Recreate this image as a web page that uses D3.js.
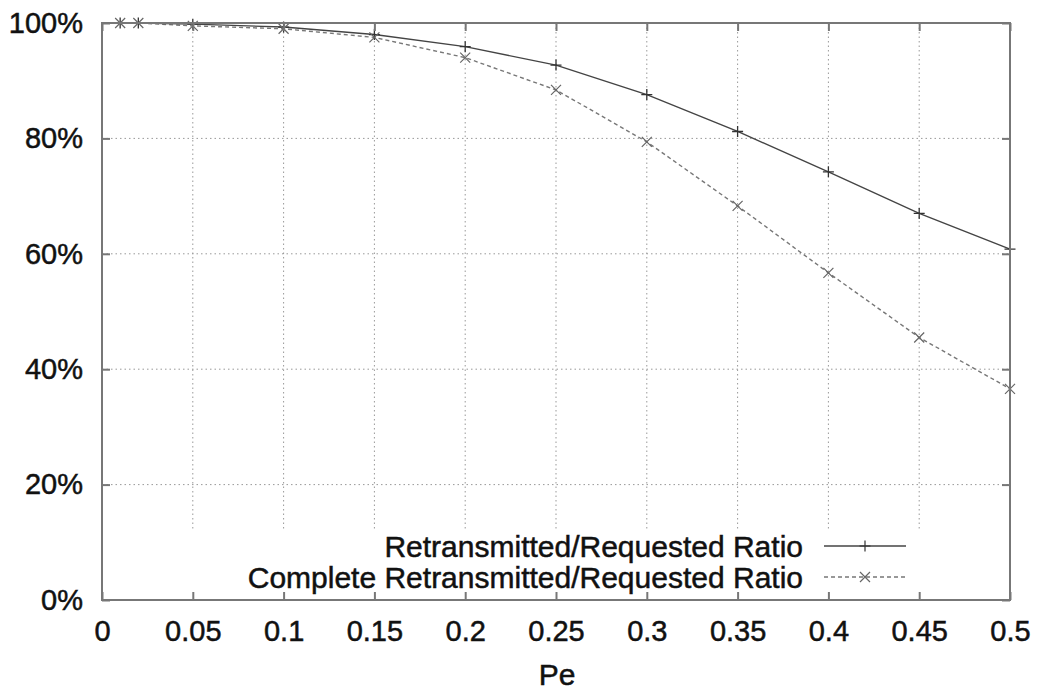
<!DOCTYPE html>
<html>
<head>
<meta charset="utf-8">
<script src="https://cdn.jsdelivr.net/npm/d3@7"></script>
<style>
  body { margin: 0; background: #fff; }
  text { font-family: "Liberation Sans", Arial, sans-serif; fill: #111; stroke: #111; stroke-width: 0.5px; }
</style>
</head>
<body>
<div id="chart"></div>
<script>
const pe = [0.01, 0.02, 0.05, 0.1, 0.15, 0.2, 0.25, 0.3, 0.35, 0.4, 0.45, 0.5];
const retransRatio = [100, 100, 99.8, 99.3, 98.0, 95.9, 92.7, 87.6, 81.2, 74.2, 67.0, 60.8];
const completeRatio = [100, 100, 99.5, 99.0, 97.5, 94.0, 88.4, 79.4, 68.3, 56.7, 45.5, 36.6];
const xTicks = [0, 0.05, 0.1, 0.15, 0.2, 0.25, 0.3, 0.35, 0.4, 0.45, 0.5];
const yTicks = [0, 20, 40, 60, 80, 100];
const seriesNames = ["Retransmitted/Requested Ratio", "Complete Retransmitted/Requested Ratio"];

const width = 1042, height = 691;
const margin = {top: 23, right: 32, bottom: 91, left: 102};
const w = width - margin.left - margin.right,
    h = height - margin.top - margin.bottom;

const svg = d3.select("#chart")
    .append("svg")
        .attr("width", width)
        .attr("height", height);

const g = svg.append("g")
    .attr("transform", "translate(" + margin.left + "," + margin.top + ")");

const x = d3.scaleLinear().domain([0, 0.5]).range([0, w]);
const y = d3.scaleLinear().domain([0, 100]).range([h, 0]);

// grid
g.append("g")
    .selectAll("line")
    .data(xTicks.slice(1, -1))
    .join("line")
        .attr("x1", d => x(d)).attr("x2", d => x(d))
        .attr("y1", 0).attr("y2", h)
        .attr("stroke", "#999")
        .attr("stroke-width", 1)
        .attr("stroke-dasharray", "1.5,3");

g.append("g")
    .selectAll("line")
    .data(yTicks.slice(1, -1))
    .join("line")
        .attr("y1", d => y(d)).attr("y2", d => y(d))
        .attr("x1", 0).attr("x2", w)
        .attr("stroke", "#999")
        .attr("stroke-width", 1)
        .attr("stroke-dasharray", "1.5,3");

// legend background hides the grid underneath
g.append("rect")
    .attr("x", 1).attr("y", h - 69)
    .attr("width", w - 2).attr("height", 68)
    .attr("fill", "#fff");

// series
const pts1 = pe.map((p, i) => [p, retransRatio[i]]);
const pts2 = pe.map((p, i) => [p, completeRatio[i]]);
const line = d3.line().x(d => x(d[0])).y(d => y(d[1]));

g.append("path")
    .datum(pts2)
    .attr("fill", "none")
    .attr("stroke", "#777")
    .attr("stroke-width", 1.4)
    .attr("stroke-dasharray", "4,3")
    .attr("d", line);

g.append("path")
    .datum(pts1)
    .attr("fill", "none")
    .attr("stroke", "#444")
    .attr("stroke-width", 1.4)
    .attr("d", line);

const plusPath = s => `M${-s},0H${s}M0,${-s}V${s}`;
const crossPath = s => `M${-s},${-s}L${s},${s}M${-s},${s}L${s},${-s}`;

g.append("g")
    .selectAll("path")
    .data(pts1)
    .join("path")
        .attr("transform", d => "translate(" + x(d[0]) + "," + y(d[1]) + ")")
        .attr("d", plusPath(5.5))
        .attr("stroke", "#333")
        .attr("stroke-width", 1.3);

g.append("g")
    .selectAll("path")
    .data(pts2)
    .join("path")
        .attr("transform", d => "translate(" + x(d[0]) + "," + y(d[1]) + ")")
        .attr("d", crossPath(5))
        .attr("stroke", "#666")
        .attr("stroke-width", 1.2);

// legend
const legend = g.append("g")
    .attr("transform", "translate(0," + (h - 54) + ")");

seriesNames.forEach((name, i) => {
    const ly = i * 31;
    legend.append("text")
        .attr("x", 701)
        .attr("y", ly)
        .attr("dy", "0.35em")
        .style("font-size", "30px")
        .style("text-anchor", "end")
        .text(name);
    legend.append("line")
        .attr("x1", 722).attr("x2", 804)
        .attr("y1", ly).attr("y2", ly)
        .attr("stroke", i === 0 ? "#444" : "#777")
        .attr("stroke-width", 1.4)
        .attr("stroke-dasharray", i === 0 ? null : "4,3");
    legend.append("path")
        .attr("transform", "translate(763," + ly + ")")
        .attr("d", i === 0 ? plusPath(5.5) : crossPath(5))
        .attr("stroke", i === 0 ? "#333" : "#666")
        .attr("stroke-width", 1.2);
});

// axes (ticks drawn inward, on all four sides)
const styleAxis = sel => {
    sel.select(".domain").remove();
    sel.selectAll(".tick line").attr("stroke", "#777").attr("stroke-width", 2);
    sel.selectAll(".tick text").style("font-size", "29px").attr("fill", "#111");
};

g.append("g")
    .attr("transform", "translate(0," + h + ")")
    .call(d3.axisBottom(x).tickValues(xTicks).tickSize(-8).tickPadding(20)
        .tickFormat(d => d3.format("")(d)))
    .call(styleAxis);

g.append("g")
    .call(d3.axisTop(x).tickValues(xTicks).tickSize(-8).tickFormat(""))
    .call(styleAxis);

g.append("g")
    .call(d3.axisLeft(y).tickValues(yTicks).tickSize(-8).tickPadding(19)
        .tickFormat(d => d + "%"))
    .call(styleAxis);

g.append("g")
    .attr("transform", "translate(" + w + ",0)")
    .call(d3.axisRight(y).tickValues(yTicks).tickSize(-8).tickFormat(""))
    .call(styleAxis);

// border
g.append("rect")
    .attr("x", 0).attr("y", 0)
    .attr("width", w).attr("height", h)
    .attr("fill", "none")
    .attr("stroke", "#777")
    .attr("stroke-width", 2);

// axis title
g.append("text")
    .attr("x", w / 2 + 1)
    .attr("y", h + 85)
    .style("font-size", "30px")
    .style("text-anchor", "middle")
    .text("Pe");
</script>
</body>
</html>
